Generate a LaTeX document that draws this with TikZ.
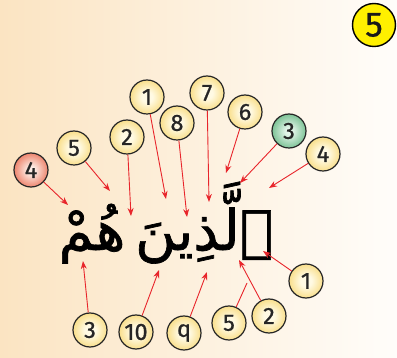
\documentclass[tikz,border=0pt]{standalone}
\usepackage{fontspec}
\setmainfont{Fira Sans}
\newfontfamily\arabicfont[Script=Arabic,FakeBold=1.2]{DejaVu Sans}
\newfontfamily\numfont[FakeBold=0.8]{Fira Sans}
\TeXXeTstate=1
\usetikzlibrary{arrows.meta}
\definecolor{bgleft}{HTML}{FBE4C2}
\definecolor{bgright}{HTML}{FFFDFA}
\definecolor{arrowred}{HTML}{E8252B}
\definecolor{yin}{HTML}{FFFAE4}
\definecolor{ymid}{HTML}{F8DA7C}
\definecolor{yout}{HTML}{EAA81E}
\definecolor{rin}{HTML}{FDEDE6}
\definecolor{rmid}{HTML}{EC8068}
\definecolor{rout}{HTML}{D63A2A}
\definecolor{gin}{HTML}{E4F5EA}
\definecolor{gmid}{HTML}{78C092}
\definecolor{gout}{HTML}{318A5A}
\definecolor{bigyellow}{HTML}{FFF000}
\pgfdeclareradialshading{yshade}{\pgfpoint{0bp}{0bp}}{color(0bp)=(yin); color(8bp)=(yin); color(28bp)=(ymid); color(50bp)=(yout)}
\pgfdeclareradialshading{rshade}{\pgfpoint{0bp}{0bp}}{color(0bp)=(rin); color(5bp)=(rin); color(26bp)=(rmid); color(50bp)=(rout)}
\pgfdeclareradialshading{gshade}{\pgfpoint{0bp}{0bp}}{color(0bp)=(gin); color(5bp)=(gin); color(26bp)=(gmid); color(50bp)=(gout)}
\begin{document}
\begin{tikzpicture}[x=1pt,y=-1pt,
  ball/.style={circle,draw=black!85,line width=1.2pt,minimum size=34pt,inner sep=0pt,
    font=\numfont\fontsize{23.5}{24}\selectfont,text=black!85},
  yball/.style={ball,shading=yshade},
  rball/.style={ball,shading=rshade},
  gball/.style={ball,shading=gshade},
  arr/.style={draw=arrowred,line width=0.9pt,-{Stealth[length=8pt,width=6pt]}},
  ln/.style={draw=arrowred,line width=0.9pt}]
\shade[left color=bgleft,right color=bgright] (0,0) rectangle (397,358);
\useasboundingbox (0,0) rectangle (397,358);

% big number
\node[circle,draw=black,line width=1.4pt,fill=bigyellow,minimum size=43pt,inner sep=0pt,
  font=\numfont\fontsize{35}{36}\selectfont,text=black!90] (big) at (374,25) {5};

% Arabic word
\node[font=\arabicfont\fontsize{56}{70}\selectfont,inner sep=0pt,anchor=base] (word) at (166,250) {\beginR ٱلَّذِينَ\hspace{-8pt} هُمْ\endR};

% balls
\node[rball] (r4) at (31,170) {4};
\node[yball] (t5) at (74,148) {5};
\node[yball] (t2) at (127,137) {2};
\node[yball] (t1) at (147,97) {1};
\node[yball] (t8) at (177,123) {8};
\node[yball] (t7) at (207,93) {7};
\node[yball] (t6) at (245,112) {6};
\node[gball] (g3) at (289,131) {3};
\node[yball] (t4) at (323,154) {4};
\node[yball] (b1) at (306,281) {1};
\node[yball] (b2) at (269,316) {2};
\node[yball] (b5) at (229,323) {5};
\node[yball] (b9) at (184,333) {q};
\node[yball] (b10) at (136,332) {10};
\node[yball] (b3) at (90,330) {3};

% arrow tips
\coordinate (pr4) at (68,205);
\coordinate (pt5) at (110,191);
\coordinate (pt2) at (131,216);
\coordinate (pt1) at (166,199);
\coordinate (pt8) at (187,217);
\coordinate (pt7) at (209,202);
\coordinate (pt6) at (226,173);
\coordinate (pg3) at (240,183);
\coordinate (pt4) at (269,188);
\coordinate (pb1) at (263,251);
\coordinate (pb2) at (239,260);
\coordinate (jb5) at (247,283);
\coordinate (pb3) at (83,261);
\coordinate (pb10) at (159,270);
\coordinate (pb9) at (207,272);

\draw[arr] (r4) -- (pr4);
\draw[arr] (t5) -- (pt5);
\draw[arr] (t2) -- (pt2);
\draw[arr] (t1) -- (pt1);
\draw[arr] (t8) -- (pt8);
\draw[arr] (t7) -- (pt7);
\draw[arr] (t6) -- (pt6);
\draw[arr] (g3) -- (pg3);
\draw[arr] (t4) -- (pt4);
\draw[arr] (b1) -- (pb1);
\draw[arr] (b2) -- (pb2);
\draw[ln] (b5) -- (jb5);
\draw[arr] (b3) -- (pb3);
\draw[arr] (b10) -- (pb10);
\draw[arr] (b9) -- (pb9);
\end{tikzpicture}
\end{document}
